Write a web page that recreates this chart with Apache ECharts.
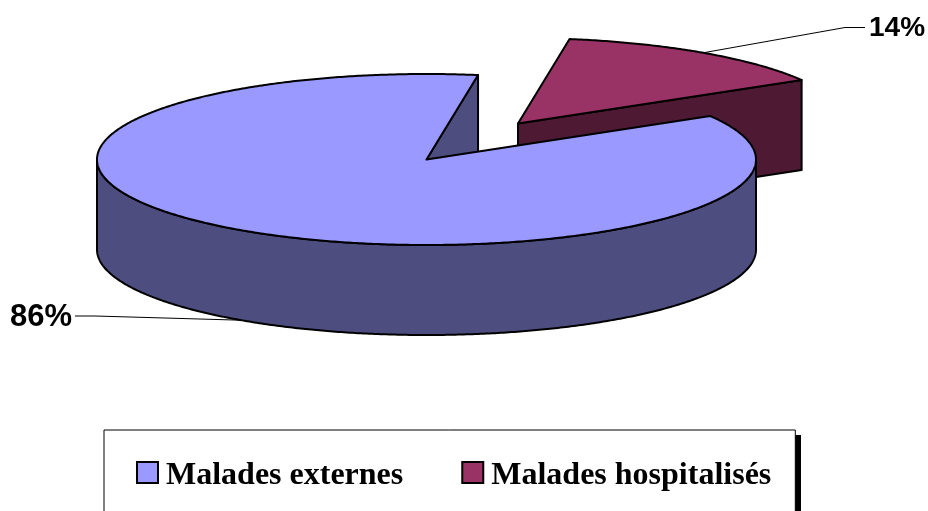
<!DOCTYPE html>
<html><head><meta charset="utf-8">
<style>html,body{margin:0;padding:0;background:#fff}#c{width:928px;height:511px}</style>
<script src="https://cdn.jsdelivr.net/npm/echarts@6/dist/echarts.min.js"></script>
</head><body><div id="c"></div>
<script>
const categories = ['Malades externes', 'Malades hospitalisés'];
const values = [86, 14];
const topColors = ['#9999FF', '#993366'];
const wallColors = ['#4D4D80', '#4D1933'];

// pie projection
const cx = 426.5, cy = 159.5, rx = 329.5, ry = 85.5, depth = 90;
const startAngle = 30.6;               // where the small slice begins, counter-clockwise
const explode = [[0, 0], [91.5, -36]];
const labelAnchors = [[75, 316, 10], [865, 27.5, 869]];  // line end x, y, text x
const labelElbow = [95, 845];
const labelSize = [31, 28];
const total = values.reduce((a, b) => a + b, 0);
const deg = Math.PI / 180;

function sweep(i) {
  const small = values[1] / total * 360;
  return i === 1 ? [startAngle, startAngle + small]
                 : [startAngle + small, startAngle + 360];
}
function pt(i, t, z) {
  return [cx + explode[i][0] + rx * Math.cos(t * deg),
          cy + explode[i][1] - ry * Math.sin(t * deg) + (z || 0)];
}
function arc(i, a, b, z) {
  const out = [], n = Math.ceil(Math.abs(b - a) * 2);
  for (let k = 0; k <= n; k++) out.push(pt(i, a + (b - a) * k / n, z));
  return out;
}
const edge = { stroke: '#000', lineWidth: 2, lineJoin: 'round' };

function slice(params, api) {
  const i = params.seriesIndex, [a, b] = sweep(i);
  const c = [cx + explode[i][0], cy + explode[i][1]];
  const cb = [c[0], c[1] + depth], kids = [];
  const poly = (points, fill) => kids.push({ type: 'polygon', shape: { points }, style: Object.assign({ fill }, edge) });
  // the cut face that looks towards the viewer
  poly([c, pt(i, a), pt(i, a, depth), cb], wallColors[i]);
  // outer wall : the part of the rim turned towards the viewer
  const w0 = Math.max(a, 180), w1 = Math.min(b, 360);
  if (w1 > w0) poly(arc(i, w0, w1, 0).concat(arc(i, w1, w0, depth)), wallColors[i]);
  // top face
  poly([c].concat(arc(i, a, b, 0)), topColors[i]);
  // leader line and percent label
  const mid = (a + b) / 2, onWall = Math.sin(mid * deg) < 0;
  const s = pt(i, mid, onWall ? depth : 0), an = labelAnchors[i];
  kids.push({ type: 'polyline', shape: { points: [s, [labelElbow[i], an[1]], [an[0], an[1]]] },
              style: { stroke: '#000', lineWidth: 1, fill: null } });
  kids.push({ type: 'text', style: { x: an[2], y: an[1] + 1, text: api.value(0) + '%', fill: '#000',
              font: 'bold ' + labelSize[i] + 'px "Liberation Sans"', textAlign: 'left', textVerticalAlign: 'middle' } });
  return { type: 'group', children: kids };
}

const chart = echarts.init(document.getElementById('c'), null, { renderer: 'canvas' });
const legendFont = { fontFamily: 'Liberation Serif', fontWeight: 'bold', fontSize: 32, color: '#000' };
chart.setOption({
  animation: false,
  graphic: [{ type: 'rect', z: 1, silent: true, shape: { x: 795, y: 435, width: 6, height: 76 }, style: { fill: '#000' } }],
  legend: {
    left: 104, top: 430, orient: 'horizontal',
    data: categories,
    icon: 'rect', itemWidth: 21, itemHeight: 21, itemGap: 58,
    padding: [29.5, 24, 46, 32],
    backgroundColor: '#fff', borderColor: '#000', borderWidth: 1,
    itemStyle: { borderColor: '#000', borderWidth: 2 },
    formatter: name => '{t|' + name + '}',
    textStyle: Object.assign({}, legendFont, {
      rich: { t: Object.assign({}, legendFont, { padding: [6, 0, 0, 3] }) }
    })
  },
  series: categories.map((name, i) => ({
    type: 'custom', name, coordinateSystem: 'none', silent: true,
    z: i === 0 ? 3 : 2,
    itemStyle: { color: topColors[i] },
    data: [[values[i]]],
    renderItem: slice
  }))
});
</script></body></html>
